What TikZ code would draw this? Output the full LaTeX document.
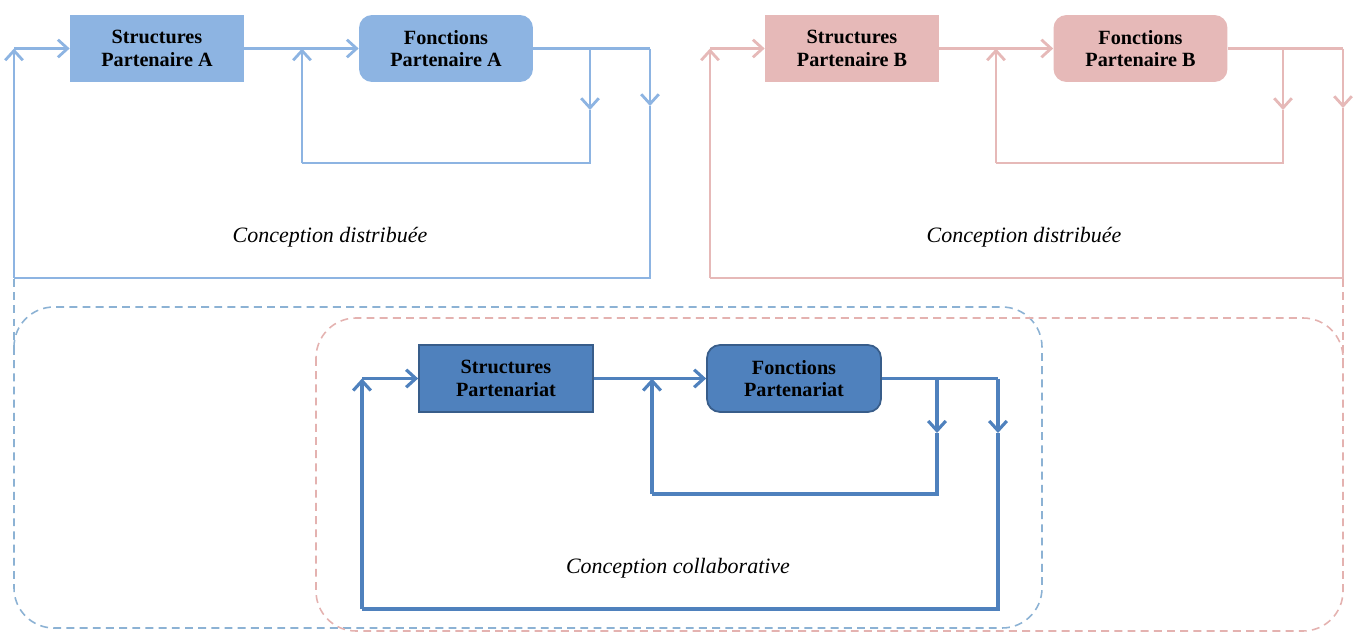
\documentclass[tikz,border=0pt]{standalone}
\usepackage{fontspec}
\setmainfont{Liberation Serif}
\usetikzlibrary{arrows.meta}
\definecolor{partAblue}{RGB}{141,180,226}
\definecolor{partBpink}{RGB}{230,185,184}
\definecolor{collabblue}{RGB}{79,129,189}
\definecolor{collabedge}{RGB}{56,93,138}
\definecolor{dashblue}{RGB}{140,178,212}
\definecolor{dashpink}{RGB}{228,178,176}

\tikzset{
  >={Straight Barb[length=5.5pt,width=10pt]},
  partbox/.style={minimum width=3.48cm, minimum height=1.34cm, inner sep=0pt,
    align=center, font=\bfseries\fontsize{11.5}{12.8}\selectfont},
  roundbox/.style={partbox, rounded corners=0.26cm},
  lnA/.style={partAblue, line width=1.6pt},
  lnB/.style={partBpink, line width=1.6pt},
  lnP/.style={collabblue, line width=1.8pt},
  looplabel/.style={font=\itshape\fontsize{12.5}{14}\selectfont},
  zone/.style={dash pattern=on 4.5pt off 3pt, line width=0.9pt, rounded corners=0.8cm}
}

\begin{document}
\begin{tikzpicture}[x=0.02cm, y=-0.02cm]
  \useasboundingbox (0,0) rectangle (1356,632);

  % --- dashed zones ---
  \draw[zone, dashblue] (14,307) rectangle (1042,628);
  \draw[zone, dashpink] (316,318) rectangle (1343,631);
  \draw[dashblue, dash pattern=on 4.5pt off 3pt, line width=0.9pt] (14,279) -- (14,350);
  \draw[dashpink, dash pattern=on 4.5pt off 3pt, line width=0.9pt] (1343,279) -- (1343,360);

  % --- partenaire A ---
  \node[partbox, fill=partAblue] (sA) at (157,48.5) {Structures\\Partenaire A};
  \node[roundbox, fill=partAblue] (fA) at (446,48.5) {Fonctions\\Partenaire A};
  \coordinate (aTL) at (14,48.5);
  \coordinate (aBL) at (14,278);
  \coordinate (aTR) at (650,48.5);
  \coordinate (aMR) at (650,106);
  \coordinate (aBR) at (650,278);
  \coordinate (aBr) at (590,48.5);
  \coordinate (aBrM) at (590,110);
  \coordinate (aBrB) at (590,163);
  \coordinate (aInB) at (302,163);
  \coordinate (aInT) at (302,48.5);
  \draw[lnA,->] (aBL) -- (aTL);
  \draw[lnA,->] (aTL) -- (sA.west);
  \draw[lnA,->] (sA.east) -- (fA.west);
  \draw[lnA] (fA.east) -- (aTR);
  \draw[lnA,->] (aBr) -- (aBrM);
  \draw[lnA] (aBrM) -- (aBrB) -- (aInB);
  \draw[lnA,->] (aInB) -- (aInT);
  \draw[lnA,->] (aTR) -- (aMR);
  \draw[lnA] (aMR) -- (aBR) -- (aBL);
  \node[looplabel] (lA) at (330,237) {Conception distribuée};

  % --- partenaire B ---
  \node[partbox, fill=partBpink] (sB) at (852,48.5) {Structures\\Partenaire B};
  \node[roundbox, fill=partBpink] (fB) at (1140.5,48.5) {Fonctions\\Partenaire B};
  \coordinate (bTL) at (710,48.5);
  \coordinate (bBL) at (710,278);
  \coordinate (bTR) at (1343,48.5);
  \coordinate (bMR) at (1343,108);
  \coordinate (bBR) at (1343,278);
  \coordinate (bBr) at (1283,48.5);
  \coordinate (bBrM) at (1283,110);
  \coordinate (bBrB) at (1283,163);
  \coordinate (bInB) at (996,163);
  \coordinate (bInT) at (996,48.5);
  \draw[lnB,->] (bBL) -- (bTL);
  \draw[lnB,->] (bTL) -- (sB.west);
  \draw[lnB,->] (sB.east) -- (fB.west);
  \draw[lnB] (fB.east) -- (bTR);
  \draw[lnB,->] (bBr) -- (bBrM);
  \draw[lnB] (bBrM) -- (bBrB) -- (bInB);
  \draw[lnB,->] (bInB) -- (bInT);
  \draw[lnB,->] (bTR) -- (bMR);
  \draw[lnB] (bMR) -- (bBR) -- (bBL);
  \node[looplabel] (lB) at (1024,237) {Conception distribuée};

  % --- partenariat ---
  \node[partbox, fill=collabblue, draw=collabedge, line width=1pt] (sP) at (506,378.5) {Structures\\Partenariat};
  \node[roundbox, fill=collabblue, draw=collabedge, line width=1pt] (fP) at (794,378.5) {Fonctions\\Partenariat};
  \coordinate (pTL) at (362,378.5);
  \coordinate (pBL) at (362,609);
  \coordinate (pTR) at (998,378.5);
  \coordinate (pMR) at (998,433);
  \coordinate (pBR) at (998,609);
  \coordinate (pBr) at (937,378.5);
  \coordinate (pBrM) at (937,433);
  \coordinate (pBrB) at (937,494);
  \coordinate (pInB) at (652,494);
  \coordinate (pInT) at (652,378.5);
  \draw[lnP,->] (pBL) -- (pTL);
  \draw[lnP,->] (pTL) -- (sP.west);
  \draw[lnP,->] (sP.east) -- (fP.west);
  \draw[lnP] (fP.east) -- (pTR);
  \draw[lnP,->] (pBr) -- (pBrM);
  \draw[lnP] (pBrM) -- (pBrB) -- (pInB);
  \draw[lnP,->] (pInB) -- (pInT);
  \draw[lnP,->] (pTR) -- (pMR);
  \draw[lnP] (pMR) -- (pBR) -- (pBL);
  \node[looplabel] (lP) at (678,568) {Conception collaborative};

\end{tikzpicture}
\end{document}
